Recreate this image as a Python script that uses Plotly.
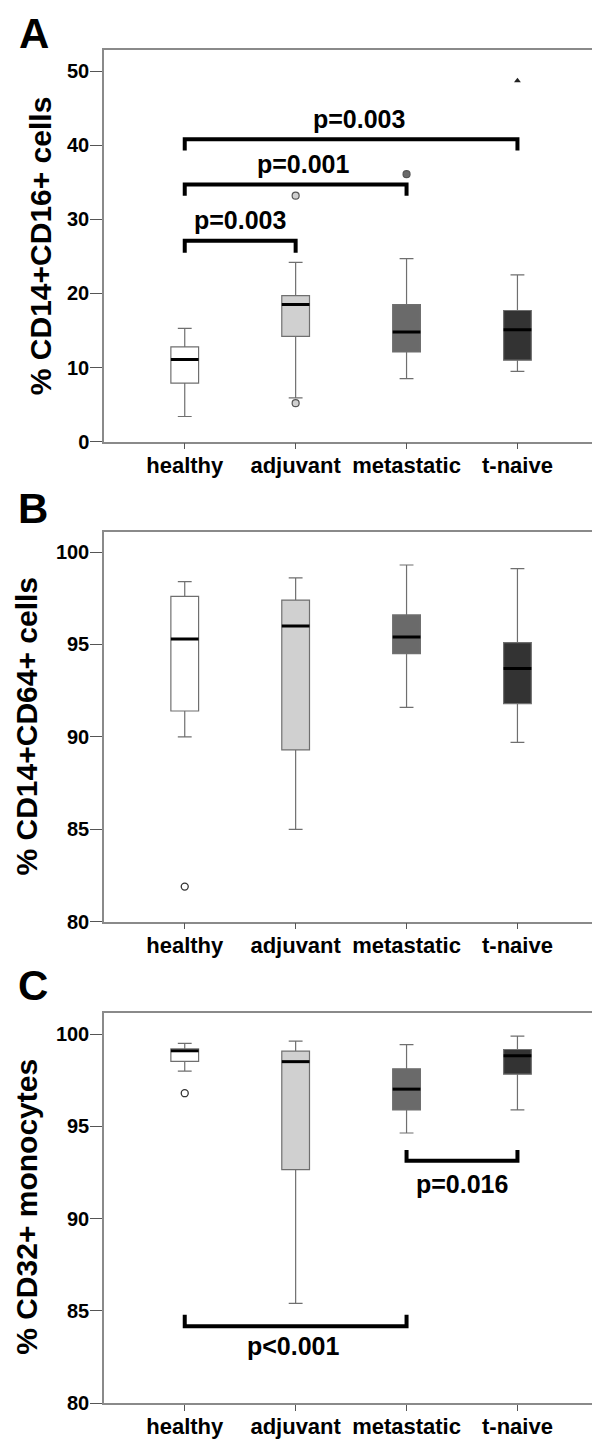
import plotly.graph_objects as go

categories = ["healthy", "adjuvant", "metastatic", "t-naive"]
xpos = [0, 1, 2, 3]

# Panel A: % CD14+CD16+ cells
a_low = [3.4, 5.9, 8.5, 9.5]
a_q1 = [7.9, 14.2, 12.1, 11.0]
a_med = [11.1, 18.5, 14.8, 15.1]
a_q3 = [12.8, 19.7, 18.5, 17.7]
a_high = [15.3, 24.2, 24.7, 22.5]
a_out_x = [1, 1, 2]
a_out_y = [33.2, 5.2, 36.1]
a_ext_x = [3]
a_ext_y = [48.7]

# Panel B: % CD14+CD64+ cells
b_low = [90.0, 85.0, 91.6, 89.7]
b_q1 = [91.4, 89.3, 94.5, 91.8]
b_med = [95.3, 96.0, 95.4, 93.7]
b_q3 = [97.6, 97.4, 96.6, 95.1]
b_high = [98.4, 98.6, 99.3, 99.1]
b_out_x = [0]
b_out_y = [81.9]

# Panel C: % CD32+ monocytes
c_low = [98.0, 85.4, 94.64, 95.89]
c_q1 = [98.53, 92.65, 95.89, 97.83]
c_med = [99.1, 98.51, 97.02, 98.83]
c_q3 = [99.21, 99.08, 98.12, 99.17]
c_high = [99.5, 99.62, 99.43, 99.89]
c_out_x = [0]
c_out_y = [96.8]

# brackets: (from, to, bar y, tip y, label, label x, label y)
a_brackets = [(0, 1, 27.1, 25.5, "p=0.003", 0.5, 29.85),
              (0, 2, 34.7, 33.2, "p=0.001", 1.07, 37.5),
              (0, 3, 40.8, 39.3, "p=0.003", 1.57, 43.6)]
c_brackets = [(2, 3, 93.13, 93.72, "p=0.016", 2.5, 91.89),
              (0, 2, 84.16, 84.79, "p<0.001", 0.985, 83.07)]

fills = ["#ffffff", "#d0d0d0", "#6a6a6a", "#333333"]
outline = "#6f6f6f"
FONT = "Liberation Sans"

W, H = 600, 1447
fig = go.Figure()

panels = [
    ("", a_low, a_q1, a_med, a_q3, a_high, [0, 52.8], [0, 10, 20, 30, 40, 50]),
    ("2", b_low, b_q1, b_med, b_q3, b_high, [80, 101.07], [80, 85, 90, 95, 100]),
    ("3", c_low, c_q1, c_med, c_q3, c_high, [80, 101.17], [80, 85, 90, 95, 100]),
]
frames_px = [(42.7, 437.0), (528.3, 920.7), (1012.3, 1405.7)]
x_dom = [96 / W, 589.3 / W]

for (suf, lo, q1, md, q3, hi, yr, tv), (top, bot) in zip(panels, frames_px):
    xa = "x" + suf
    ya = "y" + suf
    for i in range(4):
        fig.add_trace(go.Box(
            x=[xpos[i]], q1=[q1[i]], median=[md[i]], q3=[q3[i]],
            lowerfence=[lo[i]], upperfence=[hi[i]],
            width=0.25, whiskerwidth=0.5, fillcolor=fills[i],
            line=dict(color=outline, width=1.2), boxpoints=False,
            showlegend=False, xaxis=xa, yaxis=ya, hoverinfo="skip"))
        fig.add_trace(go.Scatter(
            x=[xpos[i] - 0.125, xpos[i] + 0.125], y=[md[i], md[i]],
            mode="lines", line=dict(color="black", width=3),
            showlegend=False, xaxis=xa, yaxis=ya, hoverinfo="skip"))
    dom_y = [1 - bot / H, 1 - top / H]
    ax_common = dict(showline=True, linecolor="#8a8a8a", linewidth=1.5, mirror=True,
                     showgrid=False, zeroline=False, ticks="outside",
                     tickcolor="#555555", tickwidth=1.2)
    fig.layout["xaxis" + suf] = dict(
        domain=x_dom, range=[-0.728, 3.72], tickvals=xpos, ticktext=categories,
        anchor=ya, ticklen=6, ticklabelstandoff=-3,
        tickfont=dict(family=FONT, size=22, color="black", weight="bold"),
        **ax_common)
    fig.layout["yaxis" + suf] = dict(
        domain=dom_y, range=yr, tickvals=tv, anchor=xa, ticklen=12,
        ticklabelstandoff=-3,
        tickfont=dict(family=FONT, size=20, color="black", weight="bold"),
        **ax_common)

# outliers
fig.add_trace(go.Scatter(x=a_out_x, y=a_out_y, mode="markers",
                         marker=dict(size=7, color=[fills[1], fills[1], fills[2]],
                                     line=dict(color="#555555", width=1.2)),
                         showlegend=False, xaxis="x", yaxis="y"))
fig.add_trace(go.Scatter(x=a_ext_x, y=a_ext_y, mode="markers",
                         marker=dict(size=6, symbol="triangle-up", color="#222222"),
                         showlegend=False, xaxis="x", yaxis="y"))
fig.add_trace(go.Scatter(x=b_out_x, y=b_out_y, mode="markers",
                         marker=dict(size=7, color="white", line=dict(color="#333333", width=1.3)),
                         showlegend=False, xaxis="x2", yaxis="y2"))
fig.add_trace(go.Scatter(x=c_out_x, y=c_out_y, mode="markers",
                         marker=dict(size=7, color="white", line=dict(color="#333333", width=1.3)),
                         showlegend=False, xaxis="x3", yaxis="y3"))

annotations = []
for brs, xa, ya in [(a_brackets, "x", "y"), (c_brackets, "x3", "y3")]:
    for i0, i1, yb, yt, lab, lx, ly in brs:
        fig.add_trace(go.Scatter(x=[xpos[i0], xpos[i0], xpos[i1], xpos[i1]],
                                 y=[yt, yb, yb, yt], mode="lines",
                                 line=dict(color="black", width=4),
                                 showlegend=False, xaxis=xa, yaxis=ya, hoverinfo="skip"))
        annotations.append(dict(x=lx, y=ly, xref=xa, yref=ya, text=lab, showarrow=False,
                                font=dict(family=FONT, size=25, color="black", weight="bold"),
                                xanchor="center", yanchor="middle"))

# y-axis titles
titles = [("% CD14+CD16+ cells", 32, 240), ("% CD14+CD64+ cells", 18, 724), ("% CD32+ monocytes", 19, 1208)]
for t, px, py in titles:
    annotations.append(dict(x=px / W, y=1 - py / H, xref="paper", yref="paper", text=t,
                            textangle=-90, showarrow=False, xanchor="center", yanchor="middle",
                            font=dict(family=FONT, size=30, color="black", weight="bold")))
# panel letters
for t, px, py in [("A", 26, 0), ("B", 25, 479), ("C", 25, 959)]:
    annotations.append(dict(x=px / W, y=1 - py / H, xref="paper", yref="paper", text=t,
                            showarrow=False, xanchor="center", yanchor="top",
                            font=dict(family=FONT, size=42, color="black", weight="bold")))

fig.update_layout(width=W, height=H, margin=dict(l=0, r=0, t=0, b=0),
                  paper_bgcolor="white", plot_bgcolor="white",
                  annotations=annotations, showlegend=False)
fig.write_html("out.html")
